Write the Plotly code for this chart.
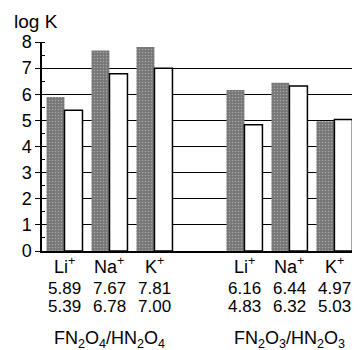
import plotly.graph_objects as go

positions = [0, 1, 2, 4, 5, 6]
cations = ["Li<sup>+</sup>", "Na<sup>+</sup>", "K<sup>+</sup>", "Li<sup>+</sup>", "Na<sup>+</sup>", "K<sup>+</sup>"]
logK_F = [5.89, 7.67, 7.81, 6.16, 6.44, 4.97]
logK_H = [5.39, 6.78, 7.00, 4.83, 6.32, 5.03]
group_pos = [1, 5]
group_labels = ["FN<sub>2</sub>O<sub>4</sub>/HN<sub>2</sub>O<sub>4</sub>",
                "FN<sub>2</sub>O<sub>3</sub>/HN<sub>2</sub>O<sub>3</sub>"]

font = "Liberation Sans, Arial, sans-serif"

fig = go.Figure()
fig.add_trace(go.Bar(
    x=positions, y=logK_F,
    marker=dict(color="#808080", line=dict(width=0),
                pattern=dict(shape=".", fgcolor="#d8d8d8", bgcolor="#777777", size=3, solidity=0.2)),
    width=0.4, offset=-0.4,
))
fig.add_trace(go.Bar(
    x=positions, y=logK_H,
    marker=dict(color="white", line=dict(color="black", width=1.5)),
    width=0.4, offset=0.0,
))

anns = []
for p, c, f, h in zip(positions, cations, logK_F, logK_H):
    anns.append(dict(x=p, y=0, xref="x", yref="paper", text=c, showarrow=False,
                     yanchor="middle", yshift=-14, font=dict(size=18, family=font, color="black")))
    anns.append(dict(x=p, y=0, xref="x", yref="paper", text=f"{f:.2f}", showarrow=False,
                     yanchor="middle", yshift=-37, font=dict(size=17, family=font, color="black")))
    anns.append(dict(x=p, y=0, xref="x", yref="paper", text=f"{h:.2f}", showarrow=False,
                     yanchor="middle", yshift=-55, font=dict(size=17, family=font, color="black")))
for gp, gl in zip(group_pos, group_labels):
    anns.append(dict(x=gp, y=0, xref="x", yref="paper", text=gl, showarrow=False,
                     yanchor="middle", yshift=-88, font=dict(size=18, family=font, color="black")))
anns.append(dict(x=0, y=1, xref="paper", yref="paper", text="log K", showarrow=False,
                 xanchor="center", yanchor="middle", xshift=-6, yshift=21,
                 font=dict(size=19, family=font, color="black")))

fig.update_layout(
    width=352, height=342,
    margin=dict(l=34, r=2, t=34, b=99),
    paper_bgcolor="white", plot_bgcolor="white",
    showlegend=False, barmode="overlay",
    annotations=anns,
    font=dict(family=font, color="black"),
)
fig.update_xaxes(range=[-0.5, 6.48], showticklabels=False, showgrid=False, zeroline=False,
                 showline=True, linecolor="black", linewidth=1.5, ticks="")
fig.update_yaxes(range=[0, 8], dtick=1, showgrid=True, gridcolor="black", gridwidth=1,
                 zeroline=False, showline=True, linecolor="black", linewidth=1.5, mirror=True,
                 ticks="outside", ticklen=5, tickcolor="black",
                 minor=dict(dtick=0.5, ticks="inside", ticklen=3, tickcolor="black"),
                 tickfont=dict(size=18, family=font, color="black"))

fig.write_html("out.html")
